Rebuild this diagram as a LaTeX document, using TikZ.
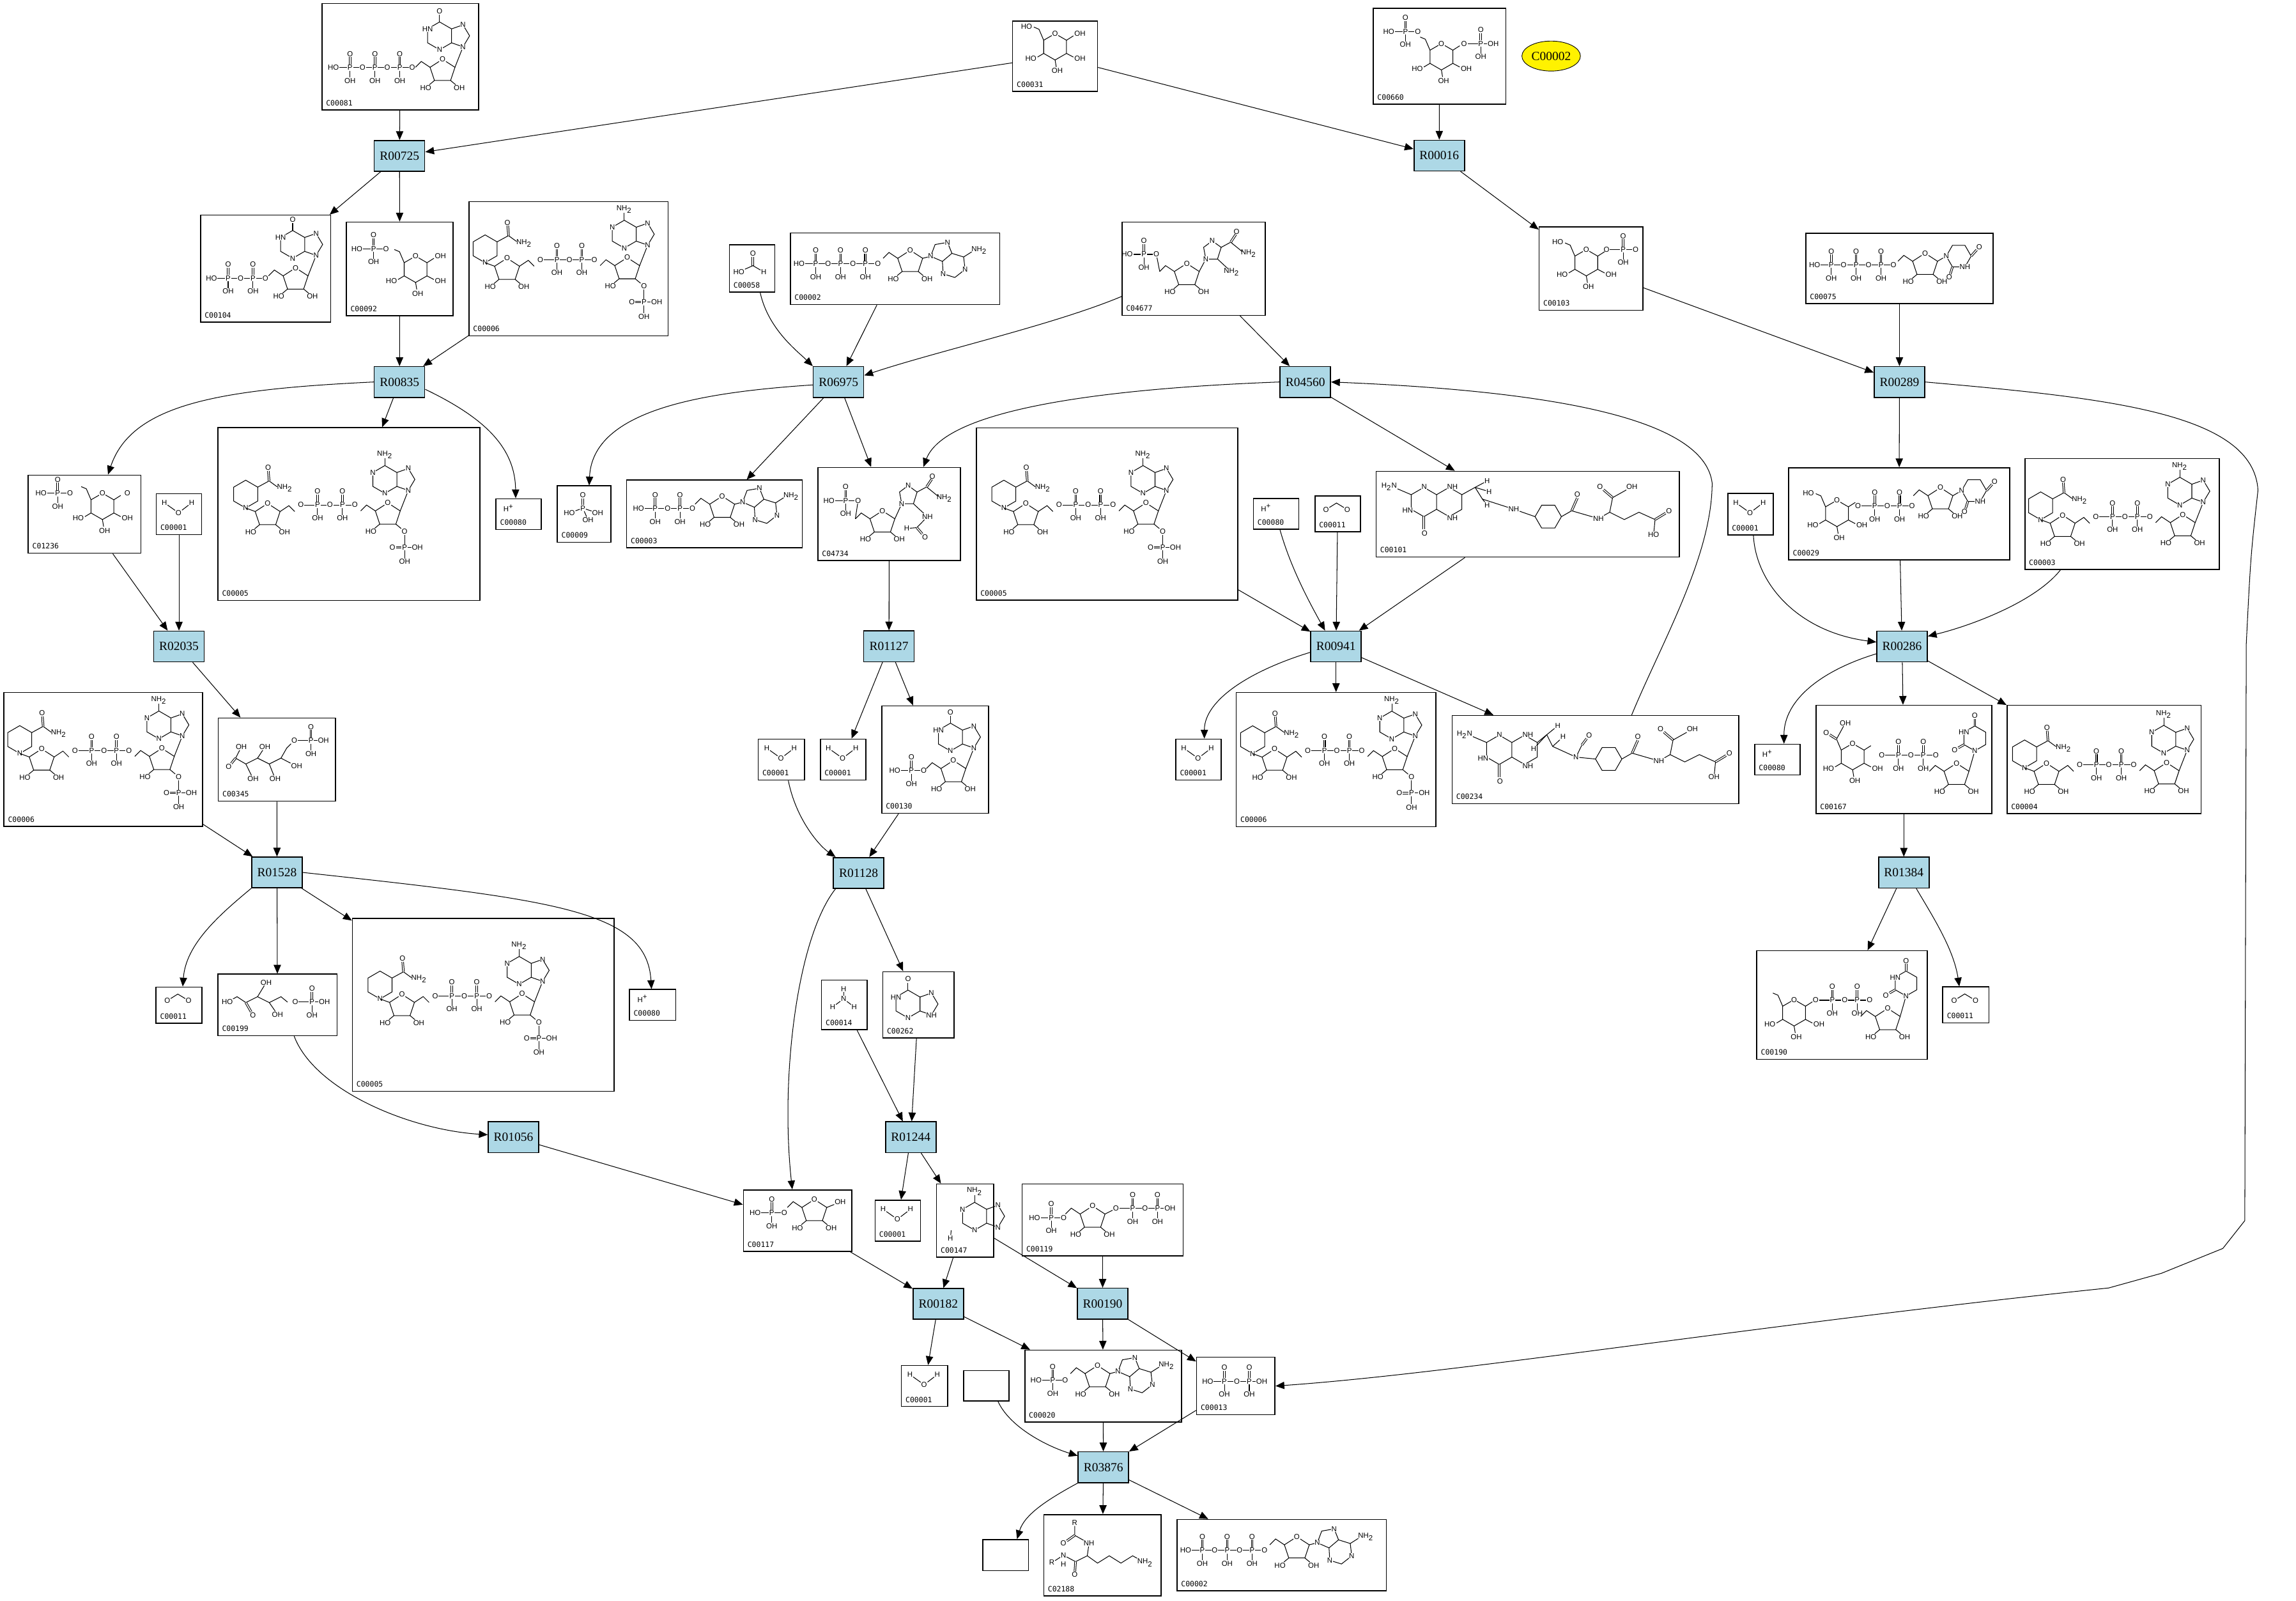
\documentclass[tikz,border=0pt]{standalone}
\usepackage{fontspec}
\setmainfont{Liberation Serif}
\setsansfont{Liberation Sans}
\setmonofont{DejaVu Sans Mono}
\usetikzlibrary{arrows.meta}
\usetikzlibrary{shapes.geometric}
\definecolor{rxblue}{HTML}{ADD8E6}
\tikzstyle{rx}=[draw, line width=0.7pt, fill=rxblue, minimum width=34.5pt,
                minimum height=21pt, inner sep=0pt, font=\fontsize{8.5}{9}\selectfont]
\tikzstyle{cpd}=[draw, line width=0.7pt, inner sep=0pt]
\tikzstyle{cid}=[anchor=south west, inner sep=0pt, font=\ttfamily\fontsize{5}{5}\selectfont]
\tikzstyle{atom}=[inner sep=0.2pt, font=\sffamily\fontsize{5}{5}\selectfont]
\tikzstyle{atomw}=[atom, fill=white]
\tikzstyle{bond}=[line width=0.45pt]
\tikzstyle{dbl}=[bond, double, double distance=0.7pt]
\tikzstyle{hit}=[-{Triangle[length=6pt,width=5pt]}, line width=0.45pt]
\tikzset{
  phead/.store in=\phead, phead=HO,
  ptail/.store in=\ptail, ptail=O,
  ribtwo/.store in=\ribtwo, ribtwo=OH,
  pn1/.store in=\pnone, pn1=N,
  pn9/.store in=\pnnine, pn9=N,
  glone/.store in=\glone, glone=OH,
  glsix/.store in=\glsix, glsix=HO,
  % phosphate chain, #1 = number of P
  phos/.pic={
    \node[atom] (-o0) at (0,0) {\phead};
    \foreach \k [count=\j from 0] in {1,...,#1} {
      \node[atom] (-p\k) at ({17*\k-5.6},0) {P};
      \node[atom] (-o\k) at ({17*\k+2.9},0) {\ifnum\k=#1 \ptail\else O\fi};
      \node[atom] (-u\k) at ({17*\k-5.6},-9.3) {O};
      \node[atom] (-d\k) at ({17*\k-5.6},9) {OH};
      \draw[bond] (-o\j) -- (-p\k) -- (-o\k);
      \draw[dbl] (-p\k) -- (-u\k);
      \draw[bond] (-p\k) -- (-d\k);
    }
  },
  % ribose, #1 = 1 (CH2 to the left) or -1 (to the right)
  rib/.pic={
    \node[atom] (-o) at (0,-8) {O};
    \draw[bond] (-o) -- (8.5,-2.5) -- (5.5,6.5) -- (-5.5,6.5) -- (-8.5,-2.5) -- (-o);
    \node[atom] (-ho) at (-11.5,11.5) {HO};
    \node[atom] (-oh) at (11.5,11.5) {\ribtwo};
    \draw[bond] (-5.5,6.5) -- (-ho);
    \draw[bond] (5.5,6.5) -- (-oh);
    \draw[bond] ({-8.5*#1},-2.5) -- ({-14.5*#1},-6.5) -- ({-18.5*#1},-2.5);
  },
  % purine, #1 = group on C6
  pur/.pic={
    \draw[bond] (0,-9.5) -- (8.2,-4.75) -- (8.2,4.75) -- (0,9.5) -- (-8.2,4.75) -- (-8.2,-4.75) -- cycle;
    \draw[bond] (8.2,-4.75) -- (16,-7.5) -- (20.5,0) -- (16,7.5) -- (8.2,4.75);
    \draw[bond] (0,-9.5) -- (0,-14.5);
    \node[atomw] (-n1) at (-8.2,-4.75) {\pnone};
    \node[atomw] (-n3) at (0,9.5) {N};
    \node[atomw] (-n7) at (16,-7.5) {N};
    \node[atomw] (-n9) at (16,7.5) {\pnnine};
    \node[atom] (-s) at (0,-17) {#1};
  },
  purh/.pic={
    \draw[bond] (0,0) -- (3,-8) -- (11.5,-9.5) -- (14.5,-2) -- (8,3.5) -- cycle;
    \draw[bond] (8,3.5) -- (8.5,12) -- (16.5,14.5) -- (23.5,9) -- (22.5,0.5) -- (14.5,-2);
    \draw[bond] (22.5,0.5) -- (28,-3);
    \node[atomw] (-n9) at (0,0) {N};
    \node[atomw] (-n7) at (11.5,-9.5) {N};
    \node[atomw] (-n3) at (8.5,12) {N};
    \node[atomw] (-n1) at (23.5,9) {N};
    \node[atom, anchor=west] (-s) at (27.5,-4) {#1};
  },
  nucl/.pic={
    \pic (-r) at (0,0) {rib=1};
    \draw[bond] (8.5,-2.5) -- (14,-16.5);
    \pic (-b) at (-2,-24) {pur=#1};
  },
  nuclh/.pic={
    \pic (-r) at (0,0) {rib=1};
    \draw[bond] (8.5,-2.5) -- (14,-3.9);
    \pic (-b) at (14,-3.9) {purh=#1};
  },
  nuclu/.pic={
    \pic (-r) at (0,0) {rib=1};
    \begin{scope}[shift={(23,-6)}]
      \draw[bond] (-8.5,0) -- (-4.25,-7.4) -- (4.25,-7.4) -- (8.5,0) -- (4.25,7.4) -- (-4.25,7.4) -- cycle;
      \draw[dbl] (8.5,0) -- (12.3,-4.3);
      \draw[dbl] (-4.25,7.4) -- (-5.8,12.3);
      \node[atomw] (-n1) at (-8.5,0) {N};
      \node[atomw] (-n3) at (4.25,7.4) {NH};
      \node[atom] (-o4) at (14,-6) {O};
      \node[atom] (-o2) at (-6.5,14.5) {O};
    \end{scope}
    \draw[bond] (8.5,-2.5) -- (-n1);
  },
  nuclv/.pic={
    \pic (-r) at (0,0) {rib=1};
    \begin{scope}[shift={(12.5,-25)}]
      \draw[bond] (0,-8.5) -- (7.4,-4.25) -- (7.4,4.25) -- (0,8.5) -- (-7.4,4.25) -- (-7.4,-4.25) -- cycle;
      \draw[dbl] (0,-8.5) -- (0,-13.3);
      \draw[dbl] (-7.4,4.25) -- (-11.3,6.5);
      \node[atomw] (-n1) at (0,8.5) {N};
      \node[atomw] (-n3) at (-7.4,-4.25) {HN};
      \node[atom] (-o4) at (0,-15.5) {O};
      \node[atom] (-o2) at (-13.8,8) {O};
    \end{scope}
    \draw[bond] (8.5,-2.5) -- (-n1);
  },
  % imidazole of AICAR, N1 at the origin
  imid/.pic={
    \draw[bond] (0,0) -- (-1.5,-8) -- (4.4,-12.4) -- (10.5,-8) -- (8,0) -- cycle;
    \draw[bond] (10.5,-8) -- (17,-11.5) -- (25,-5);
    \draw[dbl] (17,-11.5) -- (20.5,-16.8);
    \draw[bond] (8,0) -- (15,6.5);
    \node[atomw] (-n1) at (0,0) {N};
    \node[atomw] (-n3) at (4.4,-12.4) {N};
    \node[atom] (-o) at (21,-18.8) {O};
    \node[atom] (-am) at (29.2,-3.7) {NH\textsubscript{2}};
    \node[atom] (-s) at (17.6,8.8) {#1};
  },
  % pyranose ring
  glc/.pic={
    \draw[bond] (0,-9) -- (7.8,-4.5) -- (7.8,4.5) -- (0,9) -- (-7.8,4.5) -- (-7.8,-4.5) -- cycle;
    \node[atomw] (-o) at (0,-9) {O};
    \draw[bond] (7.8,-4.5) -- (12.5,-7.5);
    \node[atom] (-c1) at (17,-9) {\glone};
    \draw[bond] (7.8,4.5) -- (12.5,7);
    \node[atom] (-c2) at (17,8) {OH};
    \draw[bond] (0,9) -- (0.8,13.8);
    \node[atom] (-c3) at (1.5,16.5) {OH};
    \draw[bond] (-7.8,4.5) -- (-12,7);
    \node[atom] (-c4) at (-16.5,8) {HO};
    \draw[bond] (-7.8,-4.5) -- (-11,-12) -- (-14.5,-13.5);
    \node[atom] (-c6) at (-19.5,-14) {\glsix};
  },
  % nicotinamide ring
  nic/.pic={
    \draw[bond] (0,-9.5) -- (8.2,-4.75) -- (8.2,4.75) -- (0,9.5) -- (-8.2,4.75) -- (-8.2,-4.75) -- cycle;
    \node[atomw] (-n) at (0,9.5) {N};
    \draw[bond] (8.2,-4.75) -- (16,-9) -- (21.5,-5);
    \draw[dbl] (16,-9) -- (15.5,-15.8);
    \node[atom] (-o) at (15.3,-18) {O};
    \node[atom, anchor=west] (-am) at (21,-4) {NH\textsubscript{2}};
  },
  pthree/.pic={
    \node[atom] (-p) at (0,0) {P};
    \node[atom] (-l) at (-8.3,0) {O};
    \node[atom] (-r) at (8.7,0) {OH};
    \node[atom] (-b) at (0,9.8) {OH};
    \draw[bond] (-p) -- (0,-8.5);
    \draw[dbl] (-l) -- (-p);
    \draw[bond] (-p) -- (-r);
    \draw[bond] (-p) -- (-b);
  },
  % NAD(P), #1 = 1 for the 2'-phosphate
  nad/.pic={
    \pic (-r1) at (0,0) {rib=-1};
    \pic (-n) at (-15,-14.4) {nic};
    \draw[bond] (-15,-4.9) -- (-8.5,-2.5);
    \pic[phead=O] (-pp) at (22.7,-7) {phos=2};
    \ifnum#1=1
      \pic[ribtwo=O] (-a) at (82.1,-0.4) {nucl=NH\textsubscript{2}};
      \pic (-p2) at (93.6,22) {pthree};
    \else
      \pic (-a) at (82.1,-0.4) {nucl=NH\textsubscript{2}};
    \fi
  },
  % pterin part of folates
  pter/.pic={
    \draw[bond] (0,-11) -- (8.66,-6) -- (8.66,4) -- (0,9) -- (-8.66,4) -- (-8.66,-6) -- cycle;
    \draw[bond] (8.66,-6) -- (17.3,-11) -- (26,-6) -- (26,4) -- (17.3,9) -- (8.66,4);
    \draw[bond] (-8.66,-6) -- (-18,-10);
    \draw[dbl] (0,9) -- (0,17.5);
    \node[atomw] (-n1) at (0.2,-11.4) {N};
    \node[atomw] (-n5) at (19.5,-11.4) {NH};
    \node[atomw] (-n3) at (-11,4.8) {HN};
    \node[atomw] (-n8) at (19.5,9.9) {NH};
    \node[atom] (-am) at (-23.7,-11.4) {H\textsubscript{2}N};
    \node[atom] (-o) at (0.5,20.4) {O};
  },
  % benzoyl glutamate part of folates
  pabg/.pic={
    \draw[bond] (-9,0) -- (-4.5,-7.8) -- (4.5,-7.8) -- (9,0) -- (4.5,7.8) -- (-4.5,7.8) -- cycle;
    \draw[bond] (9,0) -- (16,-4);
    \draw[dbl] (16,-4) -- (19.9,-12.8);
    \node[atom] (-o1) at (19.9,-15.2) {O};
    \node[atom] (-nh) at (34.3,1.3) {NH};
    \draw[bond] (16,-4) -- (-nh);
    \draw[bond] (-nh) -- (42,-3) -- (52,2) -- (62,-3) -- (73,2);
    \draw[bond] (42,-3) -- (44,-13);
    \node[atom] (-o2) at (35.4,-20.4) {O};
    \node[atom] (-o3) at (57.2,-20.4) {OH};
    \draw[dbl] (44,-13) -- (-o2);
    \draw[bond] (44,-13) -- (-o3);
    \node[atom] (-o4) at (82.5,-3.8) {O};
    \node[atom] (-o5) at (72,12.3) {#1};
    \draw[dbl] (73,2) -- (-o4);
    \draw[bond] (73,2) -- (-o5);
  }
}

\begin{document}
\begin{tikzpicture}[x=1pt, y=-1pt]
\path[fill=white, use as bounding box] (0,0) rectangle (1569,1093.5);
% compounds: name / centre / size / id
\foreach \n/\x/\y/\w/\h/\c in {
  c00081/273.5/38.7/107/72.7/C00081, c00031/721/38.5/58/48/C00031,
  c00660/983.7/38.5/90.6/65.5/C00660,
  c00104/181.5/183.5/89/73/C00104, c00092/273.2/183.7/73/64/C00092,
  c00006a/388.5/183.6/136/91.6/C00006, c00058/513.9/183.5/31/32.3/C00058,
  c00002a/611.6/183.6/143/49/C00002, c04677/815.6/183.6/97.8/63.7/C04677,
  c00103/1087.3/183.5/71/57/C00103, c00075/1298/183.5/128/48/C00075,
  c01236/57.8/351.3/77/53.4/C01236, c00001a/122.3/351.3/31/28/C00001,
  c00005a/238.4/351.2/179/118/C00005, c00080a/354.4/351.3/31/21/C00080,
  c00009/399.1/351.3/36.5/38.6/C00009, c00003a/488.2/351.2/120/46.3/C00003,
  c04734/607.6/351.2/97.4/63.6/C04734, c00005b/756.5/351.2/178.7/117.6/C00005,
  c00080b/872/351.2/31/21/C00080, c00011a/914.1/351.2/31/24.5/C00011,
  c00101/1044/351.3/207.3/58.6/C00101, c00001b/1196.2/351.3/31/28.2/C00001,
  c00029/1297.8/351.1/151/63/C00029, c00003b/1450.2/351.2/133/75.8/C00003,
  c00006b/70.5/518.9/135.7/91.4/C00006, c00345/189.2/519/80/56.8/C00345,
  c00001c/534/519/31.7/28/C00001, c00001d/576.1/519/31/28/C00001,
  c00130/639/519/73/73.3/C00130, c00001e/819/519/31/28/C00001,
  c00006c/913/519/136.4/91.6/C00006, c00234/1090.3/519/196/60.2/C00234,
  c00080c/1214.6/519/31/21/C00080, c00167/1301/518.9/120/74/C00167,
  c00004/1437.8/518.9/132.6/74/C00004,
  c00011b/122.3/686.7/31.4/24.6/C00011, c00199/189.6/686.6/81.4/42/C00199,
  c00005c/330.2/686.6/178.8/118/C00005, c00080d/446/686.6/31.7/21/C00080,
  c00014/577/686.6/31.2/34/C00014, c00262/627.6/686.6/48.6/45.4/C00262,
  c00190/1258.8/686.7/116.6/74.2/C00190, c00011c/1343.4/686.6/31.6/24.5/C00011,
  c00117/545/834/74/42/C00117, c00001f/613.5/834/31/28/C00001,
  c00147/659.5/834/39/50/C00147, c00119/753.5/833.5/110/49/C00119,
  c00001g/631.8/947/31.6/28/C00001, c00020/753.8/947/107/49/C00020,
  c00013/844.5/947/53.6/39.3/C00013,
  c02188/753.4/1062.6/80.3/55.6/C02188, c00002c/875.8/1062.6/143/48.8/C00002}
{
  \node[cpd, minimum width=\w pt, minimum height=\h pt] (\n) at (\x,\y) {};
  \node[cid] (\n-id) at ([shift={(3,-3)}]\n.south west) {\c};
}
\node[cpd, minimum width=31.2pt, minimum height=20.8pt] (blank1) at (674,946.8) {};
\node[cpd, minimum width=31.2pt, minimum height=21.2pt] (blank2) at (687.2,1062.5) {};
\node[draw, line width=0.4pt, fill=yellow, ellipse, minimum width=40pt, minimum height=20.5pt,
      inner sep=0pt, font=\fontsize{8.5}{9}\selectfont] (c00002) at (1060,38.3) {C00002};

% reactions
\foreach \n/\x/\y/\l in {
  r00725/273/106.5/R00725, r00016/983.5/106.3/R00016, r00835/273/261/R00835,
  r06975/573/261/R06975, r04560/892/261/R04560, r00289/1298/261/R00289,
  r02035/122.3/441.7/R02035, r01127/607.5/441.6/R01127, r00941/913/441.7/R00941,
  r00286/1299.8/441.7/R00286, r01528/189.3/596.1/R01528, r01128/586.7/596.4/R01128,
  r01384/1301/596.2/R01384, r01056/350.9/777/R01056, r01244/622.4/777/R01244,
  r00182/641.2/890.9/R00182, r00190/753.5/890.7/R00190, r03876/754/1002.5/R03876}
\node[rx] (\n) at (\x,\y) {\l};

% small molecules
\foreach \n in {c00001a,c00001b,c00001c,c00001d,c00001e,c00001f,c00001g}
{
  \node[atom] (\n-h1) at ([shift={(-10,-7.8)}]\n.center) {H};
  \node[atom] (\n-h2) at ([shift={(8.7,-7.8)}]\n.center) {H};
  \node[atom] (\n-o) at ([shift={(-0.3,-0.9)}]\n.center) {O};
  \draw[bond] (\n-h1) -- (\n-o) -- (\n-h2);
}
\foreach \n in {c00080a,c00080b,c00080c,c00080d}
\node[atom] (\n-h) at ([shift={(-6.8,-4.1)}]\n.center) {H\textsuperscript{+}};
\foreach \n in {c00011a,c00011b,c00011c}
{
  \node[atom] (\n-o1) at ([shift={(-8,-3)}]\n.center) {O};
  \node[atom] (\n-o2) at ([shift={(6.6,-3)}]\n.center) {O};
  \coordinate (\n-c) at ([shift={(-0.8,-7.5)}]\n.center);
  \draw[bond] (\n-o1) -- (\n-c) -- (\n-o2);
}
\node[atom] (c00014-h1) at ([shift={(-0.5,-10.8)}]c00014.center) {H};
\node[atom] (c00014-n) at ([shift={(-0.5,-4.1)}]c00014.center) {N};
\node[atom] (c00014-h2) at ([shift={(-8,1.4)}]c00014.center) {H};
\node[atom] (c00014-h3) at ([shift={(6.7,1.4)}]c00014.center) {H};
\draw[bond] (c00014-h1) -- (c00014-n);
\draw[bond] (c00014-h2) -- (c00014-n) -- (c00014-h3);
\node[atom] (c00058-o) at ([shift={(0.6,-10.2)}]c00058.center) {O};
\node[atom] (c00058-ho) at ([shift={(-9,2.3)}]c00058.center) {HO};
\node[atom] (c00058-h) at ([shift={(8,2.3)}]c00058.center) {H};
\coordinate (c00058-c) at ([shift={(0.6,-2)}]c00058.center);
\draw[dbl] (c00058-o) -- (c00058-c);
\draw[bond] (c00058-ho) -- (c00058-c) -- (c00058-h);
\node[atom] (c00009-o) at ([shift={(-0.8,-12.9)}]c00009.center) {O};
\node[atom] (c00009-p) at ([shift={(-0.8,-4.1)}]c00009.center) {P};
\node[atom] (c00009-o1) at ([shift={(-10,-0.8)}]c00009.center) {HO};
\node[atom] (c00009-o2) at ([shift={(9.3,-0.8)}]c00009.center) {OH};
\node[atom] (c00009-o3) at ([shift={(2.7,3.9)}]c00009.center) {OH};
\draw[dbl] (c00009-o) -- (c00009-p);
\draw[bond] (c00009-o1) -- (c00009-p) -- (c00009-o2);
\draw[bond] (c00009-p) -- (c00009-o3);
\pic[ptail=OH] (c00013-p) at (825.3,943.7) {phos=2};

% nucleotides
\pic (c00081-p) at (227.8,46.2) {phos=3};
\pic[pn1=HN] (c00081-n) at (302.4,48.5) {nucl=O};
\pic (c00104-p) at (144.5,190) {phos=2};
\pic[pn1=HN] (c00104-n) at (202,191) {nucl=O};
\pic (c00130-p) at (611.4,526.6) {phos=1};
\pic[pn1=HN] (c00130-n) at (651.5,527.6) {nucl=O};
\pic (c00002a-p) at (546,180.3) {phos=3};
\pic (c00002a-n) at (622,179) {nuclh=NH\textsubscript{2}};
\pic (c00002c-p) at (810.2,1059.3) {phos=3};
\pic (c00002c-n) at (886.2,1058) {nuclh=NH\textsubscript{2}};
\pic (c00020-p) at (708,943) {phos=1};
\pic (c00020-n) at (750,941) {nuclh=NH\textsubscript{2}};
\pic (c00003a-p) at (436.3,347.5) {phos=2};
\pic (c00003a-n) at (493.5,347) {nuclh=NH\textsubscript{2}};
\pic (c00075-p) at (1240,181) {phos=3};
\pic (c00075-n) at (1315.5,181) {nuclu};
\pic[glone={}] (c00029-g) at (1255.3,350.8) {glc};
\pic[phead=O] (c00029-p) at (1269.7,345.7) {phos=2};
\pic (c00029-n) at (1326,341.2) {nuclu};
\pic[glone={}, glsix={}] (c00167-g) at (1266,517) {glc};
\node[atom] (c00167-x1) at (1248,500.5) {O};
\node[atom] (c00167-x2) at (1261,494) {OH};
\draw[dbl] (1255,505) -- (c00167-x1);
\draw[bond] (1255,505) -- (c00167-x2);
\pic[phead=O] (c00167-p) at (1285.9,516.1) {phos=2};
\pic (c00167-n) at (1337,529.5) {nuclv};
\pic[glone={}, glsix={}] (c00190-g) at (1226,692) {glc};
\pic[phead=O] (c00190-p) at (1240.7,683.4) {phos=2};
\pic (c00190-n) at (1290,697) {nuclv};
\pic (c00119-p) at (707,832) {phos=1};
\pic (c00119-r) at (746.6,832) {rib=1};
\pic[phead=O, ptail=OH] (c00119-q) at (762.6,825.7) {phos=2};
\draw[bond] (755.1,829.5) -- (c00119-q-o0);
\pic (c00117-p) at (516,828.7) {phos=1};
\pic (c00117-r) at (556.5,827.5) {rib=1};
\node[atom] (c00117-oh) at (574.2,821.3) {OH};
\draw[bond] (565,825) -- (c00117-oh);
\pic (c04677-p) at (770.3,173.8) {phos=1};
\pic (c04677-r) at (811,188) {rib=1};
\draw[bond] (c04677-p-o1) -- (792.5,185.5);
\draw[bond] (819.5,185.5) -- (824,177);
\pic (c04677-i) at (824,177) {imid=NH\textsubscript{2}};
\pic (c04734-p) at (566.5,342) {phos=1};
\pic (c04734-r) at (603,357) {rib=1};
\draw[bond] (c04734-p-o1) -- (584.5,354.5);
\draw[bond] (611.5,354.5) -- (616.2,344.2);
\pic (c04734-i) at (616.2,344.2) {imid=NH};
\node[atom] (c04734-h) at (619.6,361.1) {H};
\node[atom] (c04734-o) at (632.1,367) {O};
\draw[bond] (c04734-i-s) -- (626.5,360.5) -- (c04734-h);
\draw[dbl] (626.5,360.5) -- (c04734-o);

% NAD(P)(H)
\pic (c00006a-s) at (346.5,184.4) {nad=1};
\pic (c00006b-s) at (28.5,519.7) {nad=1};
\pic (c00006c-s) at (871,519.8) {nad=1};
\pic (c00003b-s) at (1409.5,360) {nad=0};
\pic (c00004-s) at (1398.5,529.5) {nad=0};
\foreach \n/\x/\y in {c00005a/182.9/352, c00005b/701/352, c00005c/274.7/687.4}
{
  \begin{scope}[shift={(\x,\y)}, scale=1.35]
    \pic (\n-s) at (0,0) {nad=1};
  \end{scope}
}

% sugars
\pic (c00031-g) at (721,32) {glc};
\pic[glone={}, glsix={}] (c00660-g) at (985,38.8) {glc};
\pic (c00660-p) at (949,21.5) {phos=1};
\pic[phead=O, ptail=OH] (c00660-q) at (1000.5,29.8) {phos=1};
\pic[glsix={}] (c00092-g) at (284,184) {glc};
\pic (c00092-p) at (243.9,170) {phos=1};
\pic[glone={}] (c00103-g) at (1084,179.5) {glc};
\pic[phead=O] (c00103-p) at (1097.8,170.5) {phos=1};
\pic[glone=O, glsix={}] (c01236-g) at (70,346) {glc};
\pic (c01236-p) at (28,337) {phos=1};

% 6-phosphogluconate
\draw[bond] (161,518) -- (168,522) -- (176,518) -- (184,522) -- (192,518) -- (196,511);
\foreach \k/\px/\py/\t in {1/156.3/523.8/O, 2/164.9/510.4/OH, 3/172.9/532/OH,
  4/181/510.4/OH, 5/188/532/OH, 6/202.7/523.6/OH}
\node[atom] (c00345-a\k) at (\px,\py) {\t};
\draw[dbl] (161,518) -- (c00345-a1);
\draw[bond] (161,518) -- (c00345-a2);
\draw[bond] (168,522) -- (c00345-a3);
\draw[bond] (176,518) -- (c00345-a4);
\draw[bond] (184,522) -- (c00345-a5);
\draw[bond] (192,518) -- (c00345-a6);
\pic[phead=O, ptail=OH] (c00345-p) at (201.1,506) {phos=1};
\draw[bond] (196,511) -- (c00345-p-o0);

% ribulose 5-phosphate
\node[atom] (c00199-ho) at (155.3,684.7) {HO};
\node[atom] (c00199-k) at (172.9,693.6) {O};
\node[atom] (c00199-h1) at (181.9,671.3) {OH};
\node[atom] (c00199-h2) at (189.6,693.1) {OH};
\draw[bond] (c00199-ho) -- (162,681) -- (168,685) -- (176,681) -- (184,685) -- (192,681) -- (196.5,684.7);
\draw[dbl] (168,685) -- (c00199-k);
\draw[bond] (176,681) -- (c00199-h1);
\draw[bond] (184,685) -- (c00199-h2);
\pic[phead=O, ptail=OH] (c00199-p) at (201.8,684.7) {phos=1};

% folates
\pic (c00101-t) at (973,344) {pter};
\node[atom] (c00101-nh) at (1034.4,347.9) {NH};
\foreach \k/\px/\py in {1/1016.3/328.6, 2/1017.6/335.9, 3/1016.3/345.1}
\node[atom] (c00101-h\k) at (\px,\py) {H};
\draw[bond] (999,338) -- (1008,333) -- (1013,341) -- (c00101-nh) -- (1049,353);
\draw[bond] (1008,333) -- (c00101-h1);
\draw[bond] (1008,333) -- (c00101-h2);
\draw[bond] (1013,341) -- (c00101-h3);
\pic (c00101-b) at (1058,353) {pabg=HO};
\pic (c00234-t) at (1024.5,513.3) {pter};
\node[atom] (c00234-n) at (1077,517.3) {N};
\node[atom] (c00234-f) at (1085.9,502.5) {O};
\foreach \k/\px/\py in {1/1064.5/495.9, 2/1068.1/503.5, 3/1048/511.6}
\node[atom] (c00234-h\k) at (\px,\py) {H};
\draw[bond] (1050.5,507.3) -- (1057,502) -- (1061,510) -- (c00234-n) -- (1090.3,518.6);
\draw[bond] (1057,502) -- (c00234-h1);
\draw[bond] (1061,510) -- (c00234-h2);
\draw[bond] (1057,502) -- (c00234-h3);
\draw[bond] (c00234-n) -- (1081,509);
\draw[dbl] (1081,509) -- (c00234-f);
\pic (c00234-b) at (1099.3,518.6) {pabg=OH};

% bases
\begin{scope}[shift={(666,831)}, xscale=-1]
  \pic (c00147-b) at (0,0) {pur=NH\textsubscript{2}};
\end{scope}
\node[atom] (c00147-h) at (649.5,846) {H};
\draw[bond] (650,840.6) -- (c00147-h);
\pic[pn1=HN, pn9=NH] (c00262-b) at (620.5,686) {pur=O};

% protein lysine
\foreach \k/\px/\py/\t in {1/734.4/1040.5/R, 2/726.7/1054.5/O, 3/744.2/1054.5/NH,
  4/726.7/1062.6/N, 5/718.8/1067.7/R, 6/726.7/1068.7/H, 7/734.4/1075.7/O,
  8/782.5/1067.7/NH\textsubscript{2}}
\node[atom] (c02188-a\k) at (\px,\py) {\t};
\draw[bond] (c02188-a1) -- (734.4,1049) -- (c02188-a3) -- (743,1063) -- (735,1067) -- (c02188-a4);
\draw[dbl] (734.4,1049) -- (c02188-a2);
\draw[dbl] (735,1067) -- (c02188-a7);
\draw[bond] (c02188-a4) -- (c02188-a5);
\draw[bond] (743,1063) -- (750,1068) -- (758,1063) -- (766,1068) -- (774,1063) -- (c02188-a8);

% straight connectors
\foreach \a/\b in {c00081/r00725, c00031/r00725, c00031/r00016, c00660/r00016,
  r00725/c00104, r00725/c00092, c00092/r00835, c00006a/r00835, r00016/c00103,
  c00103/r00289, c00075/r00289, c00002a/r06975, c04677/r04560, r00835/c00005a,
  r06975/c00003a, r06975/c04734, r04560/c00101, r00289/c00029, c01236/r02035,
  c00001a/r02035, r02035/c00345, c04734/r01127, c00005b/r00941, c00011a/r00941,
  c00101/r00941, r00941/c00006c, r00941/c00234, c00029/r00286, r00286/c00167,
  r00286/c00004, r01127/c00001d, r01127/c00130, c00006b/r01528, c00345/r01528,
  r01528/c00199, r01528/c00005c, c00130/r01128, r01128/c00262, c00167/r01384,
  r01384/c00190, r01056/c00117, c00014/r01244, c00262/r01244, r01244/c00001f,
  r01244/c00147, c00117/r00182, c00147/r00182, c00147/r00190, c00119/r00190,
  r00182/c00001g, r00182/c00020, r00190/c00020, r00190/c00013, c00020/r03876,
  c00013/r03876, r03876/c02188, r03876/c00002c}
\draw[hit] (\a) -- (\b);

% curved connectors
\draw[hit] (r00835.west) .. controls (150,266) and (90,276) .. ([xshift=16pt]c01236.north);
\draw[hit] ([yshift=-5pt]r00835.east) .. controls (330,285) and (352,305) .. ([xshift=-2pt]c00080a.north);
\draw[hit] ([yshift=-2pt]r06975.west) .. controls (480,268) and (405,280) .. ([xshift=3.5pt]c00009.north);
\draw[hit] (r04560.west) .. controls (740,266) and (645,282) .. ([xshift=23.4pt]c04734.north);
\draw[hit] ([xshift=24.7pt]c00234.north) .. controls (1135,440) and (1170,380) .. (1170,330)
  .. controls (1165,290) and (1080,268) .. (r04560.east);
\draw[hit] ([yshift=-4pt]r00941.west) .. controls (855,458) and (823,478) .. ([xshift=4pt]c00001e.north);
\draw[hit] ([yshift=-5pt]r00286.west) .. controls (1245,458) and (1219,478) .. ([xshift=4.5pt]c00080c.north);
\draw[hit] ([xshift=2pt]c00001b.south) .. controls (1200,400) and (1230,432) .. ([yshift=3pt]r00286.west);
\draw[hit] ([xshift=-42.2pt]c00003b.south) .. controls (1390,412) and (1345,428) .. ([yshift=7pt]r00286.east);
\draw[hit] ([xshift=4.7pt]c00001c.south) .. controls (544,560) and (560,578) .. ([xshift=-15.7pt]r01128.north);
\draw[hit] ([xshift=-15.7pt]r01128.south) .. controls (545,640) and (533,735) .. ([xshift=-3.6pt]c00117.north);
\draw[hit] ([xshift=11.4pt]c00199.south) .. controls (215,745) and (280,772) .. ([yshift=1.7pt]r01056.west);
\draw[hit] (r01528.south west) .. controls (150,625) and (127,645) .. ([xshift=2.6pt]c00011b.north);
\draw[hit] (r01528.east) .. controls (380,615) and (442,622) .. ([xshift=-0.8pt]c00080d.north);
\draw[hit] ([xshift=5.6pt]c00058.south) .. controls (525,225) and (545,240) .. (r06975.north west);
\draw[hit] ([yshift=-19pt]c04677.west) .. controls (720,222) and (640,240) .. ([yshift=4.5pt]r06975.east);
\draw[hit] ([xshift=2.7pt]c00080b.south) .. controls (882,388) and (895,412) .. ([xshift=-7.5pt]r00941.north);
\draw[hit] ([xshift=8.5pt]r01384.south) .. controls (1320,625) and (1335,648) .. ([xshift=-4.5pt]c00011c.north);
\draw[hit] ([xshift=8pt]blank1.south) .. controls (690,975) and (715,988) .. ([yshift=-3pt]r03876.north west);
\draw[hit] (r03876.south west) .. controls (715,1025) and (700,1035) .. ([xshift=7.8pt]blank2.north);
\draw[hit] (r00289.east) .. controls (1440,272) and (1540,282) .. (1543,335)
  .. controls (1538,380) .. (1535,440) -- (1534,834) -- (1519,853) -- (1477,870)
  -- (1441,880) .. controls (1200,905) and (1000,938) .. (c00013.east);
\end{tikzpicture}
\end{document}
